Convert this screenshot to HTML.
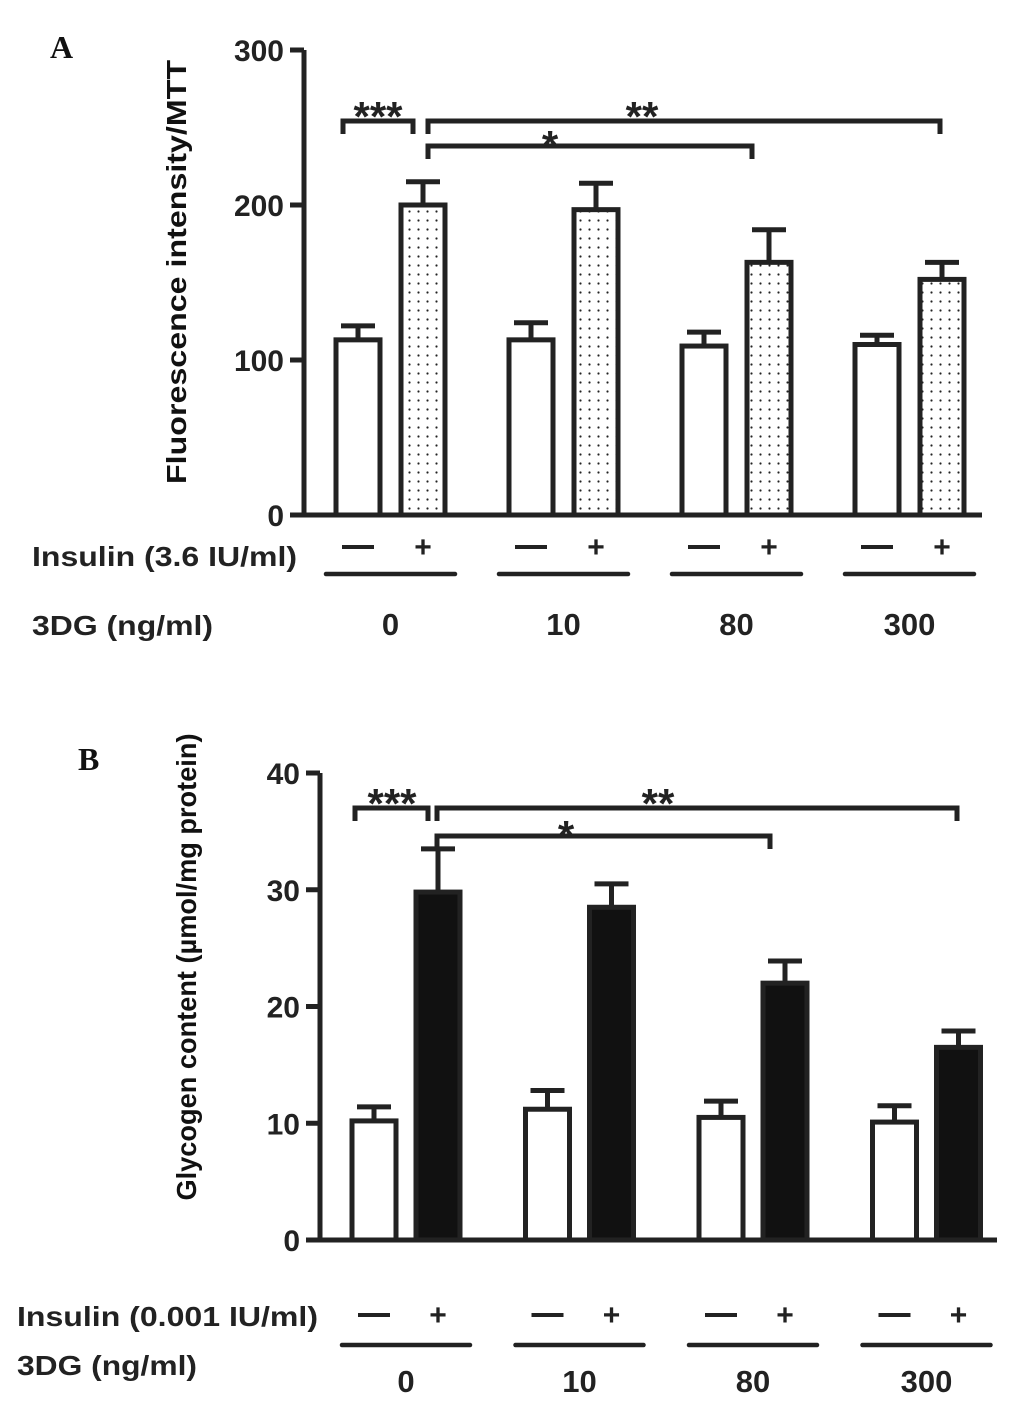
<!DOCTYPE html>
<html><head><meta charset="utf-8"><style>
html,body{margin:0;padding:0;background:#fff;}
svg{display:block;font-family:"Liberation Sans",Arial,sans-serif;}
</style></head><body>
<svg id="fig" width="1033" height="1401" viewBox="0 0 1033 1401">
<defs>
<pattern id="dots" width="9" height="9" patternUnits="userSpaceOnUse">
<circle cx="4.5" cy="4.5" r="1.1" fill="#222"/>
</pattern>
</defs>
</svg>
<script>
// Panel A data
const groupsA = ["0","10","80","300"];
const ctrlA = [113,113,109,110];
const ctrlErrA = [122,124,118,116];
const insA = [200,197,163,152];
const insErrA = [215,214,184,163];
const ticksA = [0,100,200,300];
// Panel B data
const groupsB = ["0","10","80","300"];
const ctrlB = [10.2,11.2,10.5,10.1];
const ctrlErrB = [11.4,12.8,11.9,11.5];
const insB = [29.8,28.5,22.0,16.5];
const insErrB = [33.5,30.5,23.9,17.9];
const ticksB = [0,10,20,30,40];

const svg=document.getElementById('fig');
const NS='http://www.w3.org/2000/svg';
function el(tag,attrs,name,text){
  const e=document.createElementNS(NS,tag);
  for(const k in attrs) e.setAttribute(k,attrs[k]);
  
  
  if(text!==undefined) e.textContent=text;
  svg.appendChild(e);return e;
}
const SW=5, C='#222';
function panel(cfg){
  const y=v=>cfg.y0-(v/cfg.max)*(cfg.y0-cfg.yTop);
  el('line',{x1:cfg.ax,y1:cfg.yTop,x2:cfg.ax,y2:cfg.y0+2,stroke:C,'stroke-width':SW},cfg.p+'-y-axis');
  el('line',{x1:cfg.ax-14,y1:cfg.y0,x2:cfg.xEnd,y2:cfg.y0,stroke:C,'stroke-width':SW},cfg.p+'-x-axis');
  cfg.ticks.forEach(t=>{
    el('line',{x1:cfg.ax-14,y1:y(t),x2:cfg.ax,y2:y(t),stroke:C,'stroke-width':SW},cfg.p+'-y-tick');
    el('text',{x:cfg.ax-20,y:y(t)+11,'text-anchor':'end','font-size':30,'font-weight':'bold',fill:C},cfg.p+'-y-tick-label',String(t));
  });
  el('text',{x:0,y:0,transform:`translate(${cfg.titleX},${cfg.titleY}) rotate(-90)`,'text-anchor':'middle','font-size':28,'font-weight':'bold',fill:'#111',textLength:cfg.titleLen,lengthAdjust:'spacingAndGlyphs'},cfg.p+'-y-axis-title',cfg.title);
  const bw=44;
  cfg.groups.forEach((g,i)=>{
    const cx=cfg.g0+i*cfg.gs, ix=cx+cfg.off;
    [[cx,cfg.ctrl[i],cfg.ctrlErr[i],'#fff','ctrl'],[ix,cfg.ins[i],cfg.insErr[i],cfg.fill,'ins']].forEach(([x,v,e,f,n])=>{
      el('line',{x1:x+bw/2,y1:y(v),x2:x+bw/2,y2:y(e),stroke:C,'stroke-width':SW},cfg.p+'-error-bar-'+n);
      el('line',{x1:x+bw/2-17,y1:y(e),x2:x+bw/2+17,y2:y(e),stroke:C,'stroke-width':SW},cfg.p+'-error-cap-'+n);
      el('rect',{x:x,y:y(v),width:bw,height:cfg.y0-y(v),fill:f,stroke:C,'stroke-width':SW},cfg.p+'-bar-'+n+'-'+g);
    });
    el('rect',{x:cx+bw/2-16,y:cfg.signY-2,width:32,height:4,fill:C},cfg.p+'-insulin-minus');
    el('text',{x:ix+bw/2,y:cfg.signY+10,'text-anchor':'middle','font-size':30,'font-weight':'bold',fill:C},cfg.p+'-insulin-plus','+');
    el('line',{x1:cx-10,y1:cfg.lineY,x2:ix+bw+10,y2:cfg.lineY,stroke:C,'stroke-width':4.5,'stroke-linecap':'round'},cfg.p+'-group-underline');
    el('text',{x:(cx+ix+bw)/2,y:cfg.numY,'text-anchor':'middle','font-size':31,'font-weight':'bold',fill:C},cfg.p+'-3dg-label',g);
  });
  el('text',{x:cfg.labX,y:cfg.insY,'font-size':28,'font-weight':'bold',fill:C,textLength:cfg.insLen,lengthAdjust:'spacingAndGlyphs'},cfg.p+'-insulin-label',cfg.insLabel);
  el('text',{x:cfg.labX,y:cfg.dgY,'font-size':28,'font-weight':'bold',fill:C,textLength:cfg.dgLen,lengthAdjust:'spacingAndGlyphs'},cfg.p+'-3dg-axis-label','3DG (ng/ml)');
  cfg.brackets.forEach(b=>{
    el('path',{d:`M${b[0]},${b[2]+13} V${b[2]} H${b[1]} V${b[2]+13}`,fill:'none',stroke:C,'stroke-width':SW},cfg.p+'-significance-bracket');
    el('text',{x:b[3],y:b[2]+b[5],'text-anchor':'middle','font-size':42,'font-weight':'bold',fill:C},cfg.p+'-significance-stars',b[4]);
  });
  el('text',{x:cfg.letX,y:cfg.letY,'font-family':'"Liberation Serif",serif','font-size':32,'font-weight':'bold',fill:'#111'},cfg.p+'-panel-letter',cfg.letter);
}
panel({p:'a',ax:304,y0:515,yTop:50,max:300,xEnd:982,ticks:ticksA,groups:groupsA,ctrl:ctrlA,ctrlErr:ctrlErrA,ins:insA,insErr:insErrA,
  g0:336,gs:173,off:65,fill:'url(#dots)',title:'Fluorescence intensity/MTT',titleX:186,titleY:272,titleLen:424,
  signY:547,lineY:574,numY:635,labX:32,insY:566,dgY:635,insLen:265,dgLen:181,insLabel:'Insulin (3.6 IU/ml)',
  brackets:[[343,413,121,378,'***',10],[428,940,121,642,'**',10],[428,752,146,550,'*',14]],letter:'A',letX:50,letY:58});
panel({p:'b',ax:320,y0:1240,yTop:773,max:40,xEnd:997,ticks:ticksB,groups:groupsB,ctrl:ctrlB,ctrlErr:ctrlErrB,ins:insB,insErr:insErrB,
  g0:352,gs:173.5,off:64,fill:'#111',title:'Glycogen content (µmol/mg protein)',titleX:196,titleY:967,titleLen:467,
  signY:1315,lineY:1345,numY:1392,labX:17,insY:1326,dgY:1375,insLen:301,dgLen:180,insLabel:'Insulin (0.001 IU/ml)',
  brackets:[[355,428,808,392,'***',10],[437,957,808,658,'**',10],[437,770,836,566,'*',14]],letter:'B',letX:78,letY:770});
</script>
</body></html>
